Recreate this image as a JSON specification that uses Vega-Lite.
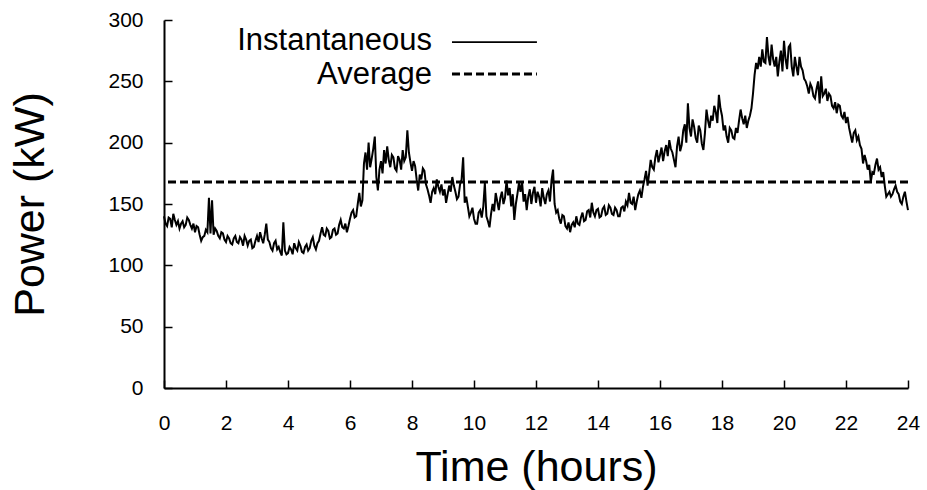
{
  "$schema": "https://vega.github.io/schema/vega-lite/v6.json",
  "width": 744,
  "height": 368,
  "autosize": {"type": "none"},
  "padding": {"left": 164, "top": 20, "right": 19, "bottom": 102},
  "background": "white",
  "config": {
    "view": {"stroke": null},
    "font": "Liberation Sans",
    "axis": {
      "domainColor": "black", "domainWidth": 2, "tickColor": "black", "tickWidth": 1.5,
      "labelColor": "black", "titleColor": "black", "grid": false, "labelFlush": false,
      "labelFont": "Liberation Sans", "titleFont": "Liberation Sans", "titleFontWeight": "normal",
      "labelFontSize": 21, "titleFontSize": 43
    }
  },
  "resolve": {"axis": {"x": "independent", "y": "independent"}},
  "layer": [
    {
      "data": {"values": [
        {"h":0.00,"kW":140},{"h":0.05,"kW":134},{"h":0.10,"kW":132},{"h":0.15,"kW":139},{"h":0.20,"kW":138},{"h":0.25,"kW":131},{"h":0.30,"kW":142},{"h":0.35,"kW":137},{"h":0.40,"kW":133},{"h":0.45,"kW":136},{"h":0.50,"kW":130},{"h":0.55,"kW":134},{"h":0.60,"kW":136},{"h":0.65,"kW":131},{"h":0.70,"kW":133},{"h":0.75,"kW":139},{"h":0.80,"kW":137},{"h":0.85,"kW":133},{"h":0.90,"kW":130},{"h":0.95,"kW":134},
        {"h":1.00,"kW":127},{"h":1.05,"kW":132},{"h":1.10,"kW":131},{"h":1.15,"kW":125},{"h":1.20,"kW":120},{"h":1.25,"kW":123},{"h":1.30,"kW":124},{"h":1.35,"kW":129},{"h":1.40,"kW":127},{"h":1.45,"kW":155},{"h":1.50,"kW":126},{"h":1.55,"kW":153},{"h":1.60,"kW":125},{"h":1.65,"kW":130},{"h":1.70,"kW":128},{"h":1.75,"kW":124},{"h":1.80,"kW":122},{"h":1.85,"kW":127},{"h":1.90,"kW":126},{"h":1.95,"kW":121},
        {"h":2.00,"kW":119},{"h":2.05,"kW":124},{"h":2.10,"kW":122},{"h":2.15,"kW":118},{"h":2.20,"kW":117},{"h":2.25,"kW":122},{"h":2.30,"kW":124},{"h":2.35,"kW":119},{"h":2.40,"kW":118},{"h":2.45,"kW":123},{"h":2.50,"kW":121},{"h":2.55,"kW":116},{"h":2.60,"kW":124},{"h":2.65,"kW":121},{"h":2.70,"kW":116},{"h":2.75,"kW":120},{"h":2.80,"kW":121},{"h":2.85,"kW":114},{"h":2.90,"kW":115},{"h":2.95,"kW":120},
        {"h":3.00,"kW":124},{"h":3.05,"kW":119},{"h":3.10,"kW":127},{"h":3.15,"kW":122},{"h":3.20,"kW":118},{"h":3.25,"kW":125},{"h":3.30,"kW":134},{"h":3.35,"kW":121},{"h":3.40,"kW":119},{"h":3.45,"kW":114},{"h":3.50,"kW":112},{"h":3.55,"kW":118},{"h":3.60,"kW":120},{"h":3.65,"kW":113},{"h":3.70,"kW":115},{"h":3.75,"kW":111},{"h":3.80,"kW":108},{"h":3.85,"kW":135},{"h":3.90,"kW":112},{"h":3.95,"kW":109},
        {"h":4.00,"kW":110},{"h":4.05,"kW":115},{"h":4.10,"kW":113},{"h":4.15,"kW":109},{"h":4.20,"kW":118},{"h":4.25,"kW":114},{"h":4.30,"kW":112},{"h":4.35,"kW":119},{"h":4.40,"kW":116},{"h":4.45,"kW":111},{"h":4.50,"kW":110},{"h":4.55,"kW":115},{"h":4.60,"kW":117},{"h":4.65,"kW":112},{"h":4.70,"kW":114},{"h":4.75,"kW":120},{"h":4.80,"kW":123},{"h":4.85,"kW":116},{"h":4.90,"kW":113},{"h":4.95,"kW":118},
        {"h":5.00,"kW":120},{"h":5.05,"kW":126},{"h":5.10,"kW":131},{"h":5.15,"kW":125},{"h":5.20,"kW":124},{"h":5.25,"kW":130},{"h":5.30,"kW":128},{"h":5.35,"kW":122},{"h":5.40,"kW":123},{"h":5.45,"kW":129},{"h":5.50,"kW":130},{"h":5.55,"kW":125},{"h":5.60,"kW":126},{"h":5.65,"kW":133},{"h":5.70,"kW":137},{"h":5.75,"kW":131},{"h":5.80,"kW":130},{"h":5.85,"kW":134},{"h":5.90,"kW":127},{"h":5.95,"kW":132},
        {"h":6.00,"kW":138},{"h":6.05,"kW":143},{"h":6.10,"kW":145},{"h":6.15,"kW":139},{"h":6.20,"kW":140},{"h":6.25,"kW":150},{"h":6.30,"kW":159},{"h":6.35,"kW":148},{"h":6.40,"kW":153},{"h":6.45,"kW":183},{"h":6.50,"kW":192},{"h":6.55,"kW":178},{"h":6.60,"kW":200},{"h":6.65,"kW":180},{"h":6.70,"kW":187},{"h":6.75,"kW":195},{"h":6.80,"kW":205},{"h":6.85,"kW":172},{"h":6.90,"kW":161},{"h":6.95,"kW":178},
        {"h":7.00,"kW":185},{"h":7.05,"kW":175},{"h":7.10,"kW":194},{"h":7.15,"kW":183},{"h":7.20,"kW":197},{"h":7.25,"kW":186},{"h":7.30,"kW":180},{"h":7.35,"kW":190},{"h":7.40,"kW":188},{"h":7.45,"kW":179},{"h":7.50,"kW":177},{"h":7.55,"kW":189},{"h":7.60,"kW":186},{"h":7.65,"kW":178},{"h":7.70,"kW":194},{"h":7.75,"kW":185},{"h":7.80,"kW":188},{"h":7.85,"kW":210},{"h":7.90,"kW":192},{"h":7.95,"kW":184},
        {"h":8.00,"kW":177},{"h":8.05,"kW":185},{"h":8.10,"kW":181},{"h":8.15,"kW":170},{"h":8.20,"kW":161},{"h":8.25,"kW":174},{"h":8.30,"kW":170},{"h":8.35,"kW":179},{"h":8.40,"kW":177},{"h":8.45,"kW":166},{"h":8.50,"kW":162},{"h":8.55,"kW":157},{"h":8.60,"kW":151},{"h":8.65,"kW":160},{"h":8.70,"kW":163},{"h":8.75,"kW":158},{"h":8.80,"kW":170},{"h":8.85,"kW":164},{"h":8.90,"kW":160},{"h":8.95,"kW":166},
        {"h":9.00,"kW":157},{"h":9.05,"kW":162},{"h":9.10,"kW":151},{"h":9.15,"kW":158},{"h":9.20,"kW":165},{"h":9.25,"kW":160},{"h":9.30,"kW":172},{"h":9.35,"kW":165},{"h":9.40,"kW":160},{"h":9.45,"kW":154},{"h":9.50,"kW":156},{"h":9.55,"kW":166},{"h":9.60,"kW":170},{"h":9.65,"kW":188},{"h":9.70,"kW":151},{"h":9.75,"kW":156},{"h":9.80,"kW":148},{"h":9.85,"kW":140},{"h":9.90,"kW":143},{"h":9.95,"kW":147},
        {"h":10.00,"kW":138},{"h":10.05,"kW":134},{"h":10.10,"kW":134},{"h":10.15,"kW":143},{"h":10.20,"kW":145},{"h":10.25,"kW":139},{"h":10.30,"kW":148},{"h":10.35,"kW":167},{"h":10.40,"kW":140},{"h":10.45,"kW":136},{"h":10.50,"kW":131},{"h":10.55,"kW":142},{"h":10.60,"kW":150},{"h":10.65,"kW":144},{"h":10.70,"kW":159},{"h":10.75,"kW":152},{"h":10.80,"kW":145},{"h":10.85,"kW":155},{"h":10.90,"kW":160},{"h":10.95,"kW":150},
        {"h":11.00,"kW":155},{"h":11.05,"kW":169},{"h":11.10,"kW":157},{"h":11.15,"kW":163},{"h":11.20,"kW":148},{"h":11.25,"kW":158},{"h":11.30,"kW":137},{"h":11.35,"kW":150},{"h":11.40,"kW":158},{"h":11.45,"kW":167},{"h":11.50,"kW":160},{"h":11.55,"kW":168},{"h":11.60,"kW":152},{"h":11.65,"kW":158},{"h":11.70,"kW":145},{"h":11.75,"kW":156},{"h":11.80,"kW":162},{"h":11.85,"kW":150},{"h":11.90,"kW":159},{"h":11.95,"kW":164},
        {"h":12.00,"kW":151},{"h":12.05,"kW":160},{"h":12.10,"kW":156},{"h":12.15,"kW":148},{"h":12.20,"kW":163},{"h":12.25,"kW":155},{"h":12.30,"kW":150},{"h":12.35,"kW":158},{"h":12.40,"kW":161},{"h":12.45,"kW":152},{"h":12.50,"kW":169},{"h":12.55,"kW":178},{"h":12.60,"kW":150},{"h":12.65,"kW":143},{"h":12.70,"kW":145},{"h":12.75,"kW":138},{"h":12.80,"kW":134},{"h":12.85,"kW":141},{"h":12.90,"kW":140},{"h":12.95,"kW":132},
        {"h":13.00,"kW":130},{"h":13.05,"kW":135},{"h":13.10,"kW":127},{"h":13.15,"kW":133},{"h":13.20,"kW":135},{"h":13.25,"kW":131},{"h":13.30,"kW":140},{"h":13.35,"kW":134},{"h":13.40,"kW":133},{"h":13.45,"kW":139},{"h":13.50,"kW":143},{"h":13.55,"kW":136},{"h":13.60,"kW":137},{"h":13.65,"kW":144},{"h":13.70,"kW":145},{"h":13.75,"kW":139},{"h":13.80,"kW":151},{"h":13.85,"kW":143},{"h":13.90,"kW":140},{"h":13.95,"kW":145},
        {"h":14.00,"kW":146},{"h":14.05,"kW":139},{"h":14.10,"kW":140},{"h":14.15,"kW":146},{"h":14.20,"kW":148},{"h":14.25,"kW":141},{"h":14.30,"kW":142},{"h":14.35,"kW":149},{"h":14.40,"kW":147},{"h":14.45,"kW":142},{"h":14.50,"kW":141},{"h":14.55,"kW":147},{"h":14.60,"kW":145},{"h":14.65,"kW":140},{"h":14.70,"kW":140},{"h":14.75,"kW":147},{"h":14.80,"kW":148},{"h":14.85,"kW":144},{"h":14.90,"kW":152},{"h":14.95,"kW":149},
        {"h":15.00,"kW":159},{"h":15.05,"kW":151},{"h":15.10,"kW":150},{"h":15.15,"kW":156},{"h":15.20,"kW":145},{"h":15.25,"kW":152},{"h":15.30,"kW":158},{"h":15.35,"kW":161},{"h":15.40,"kW":155},{"h":15.45,"kW":164},{"h":15.50,"kW":170},{"h":15.55,"kW":177},{"h":15.60,"kW":165},{"h":15.65,"kW":175},{"h":15.70,"kW":186},{"h":15.75,"kW":180},{"h":15.80,"kW":178},{"h":15.85,"kW":188},{"h":15.90,"kW":194},{"h":15.95,"kW":184},
        {"h":16.00,"kW":190},{"h":16.05,"kW":196},{"h":16.10,"kW":185},{"h":16.15,"kW":193},{"h":16.20,"kW":198},{"h":16.25,"kW":189},{"h":16.30,"kW":202},{"h":16.35,"kW":195},{"h":16.40,"kW":192},{"h":16.45,"kW":186},{"h":16.50,"kW":180},{"h":16.55,"kW":197},{"h":16.60,"kW":205},{"h":16.65,"kW":193},{"h":16.70,"kW":198},{"h":16.75,"kW":210},{"h":16.80,"kW":215},{"h":16.85,"kW":200},{"h":16.90,"kW":232},{"h":16.95,"kW":212},
        {"h":17.00,"kW":205},{"h":17.05,"kW":219},{"h":17.10,"kW":213},{"h":17.15,"kW":204},{"h":17.20,"kW":200},{"h":17.25,"kW":214},{"h":17.30,"kW":210},{"h":17.35,"kW":199},{"h":17.40,"kW":194},{"h":17.45,"kW":208},{"h":17.50,"kW":227},{"h":17.55,"kW":218},{"h":17.60,"kW":212},{"h":17.65,"kW":222},{"h":17.70,"kW":218},{"h":17.75,"kW":230},{"h":17.80,"kW":225},{"h":17.85,"kW":216},{"h":17.90,"kW":239},{"h":17.95,"kW":228},
        {"h":18.00,"kW":222},{"h":18.05,"kW":210},{"h":18.10,"kW":214},{"h":18.15,"kW":205},{"h":18.20,"kW":200},{"h":18.25,"kW":212},{"h":18.30,"kW":210},{"h":18.35,"kW":204},{"h":18.40,"kW":203},{"h":18.45,"kW":212},{"h":18.50,"kW":208},{"h":18.55,"kW":218},{"h":18.60,"kW":227},{"h":18.65,"kW":220},{"h":18.70,"kW":215},{"h":18.75,"kW":222},{"h":18.80,"kW":212},{"h":18.85,"kW":218},{"h":18.90,"kW":222},{"h":18.95,"kW":228},
        {"h":19.00,"kW":240},{"h":19.05,"kW":255},{"h":19.10,"kW":265},{"h":19.15,"kW":260},{"h":19.20,"kW":270},{"h":19.25,"kW":262},{"h":19.30,"kW":276},{"h":19.35,"kW":266},{"h":19.40,"kW":265},{"h":19.45,"kW":286},{"h":19.50,"kW":270},{"h":19.55,"kW":263},{"h":19.60,"kW":280},{"h":19.65,"kW":268},{"h":19.70,"kW":262},{"h":19.75,"kW":270},{"h":19.80,"kW":254},{"h":19.85,"kW":266},{"h":19.90,"kW":275},{"h":19.95,"kW":258},
        {"h":20.00,"kW":283},{"h":20.05,"kW":268},{"h":20.10,"kW":260},{"h":20.15,"kW":278},{"h":20.20,"kW":280},{"h":20.25,"kW":262},{"h":20.30,"kW":254},{"h":20.35,"kW":270},{"h":20.40,"kW":262},{"h":20.45,"kW":255},{"h":20.50,"kW":270},{"h":20.55,"kW":262},{"h":20.60,"kW":259},{"h":20.65,"kW":252},{"h":20.70,"kW":250},{"h":20.75,"kW":246},{"h":20.80,"kW":240},{"h":20.85,"kW":248},{"h":20.90,"kW":245},{"h":20.95,"kW":238},
        {"h":21.00,"kW":236},{"h":21.05,"kW":244},{"h":21.10,"kW":250},{"h":21.15,"kW":232},{"h":21.20,"kW":254},{"h":21.25,"kW":238},{"h":21.30,"kW":240},{"h":21.35,"kW":244},{"h":21.40,"kW":234},{"h":21.45,"kW":240},{"h":21.50,"kW":238},{"h":21.55,"kW":230},{"h":21.60,"kW":228},{"h":21.65,"kW":233},{"h":21.70,"kW":224},{"h":21.75,"kW":231},{"h":21.80,"kW":230},{"h":21.85,"kW":222},{"h":21.90,"kW":220},{"h":21.95,"kW":225},
        {"h":22.00,"kW":216},{"h":22.05,"kW":221},{"h":22.10,"kW":212},{"h":22.15,"kW":206},{"h":22.20,"kW":200},{"h":22.25,"kW":208},{"h":22.30,"kW":210},{"h":22.35,"kW":202},{"h":22.40,"kW":205},{"h":22.45,"kW":198},{"h":22.50,"kW":195},{"h":22.55,"kW":183},{"h":22.60,"kW":190},{"h":22.65,"kW":185},{"h":22.70,"kW":178},{"h":22.75,"kW":182},{"h":22.80,"kW":168},{"h":22.85,"kW":176},{"h":22.90,"kW":175},{"h":22.95,"kW":182},
        {"h":23.00,"kW":187},{"h":23.05,"kW":178},{"h":23.10,"kW":180},{"h":23.15,"kW":172},{"h":23.20,"kW":176},{"h":23.25,"kW":165},{"h":23.30,"kW":156},{"h":23.35,"kW":158},{"h":23.40,"kW":160},{"h":23.45,"kW":156},{"h":23.50,"kW":158},{"h":23.55,"kW":162},{"h":23.60,"kW":165},{"h":23.65,"kW":160},{"h":23.70,"kW":158},{"h":23.75,"kW":152},{"h":23.80,"kW":150},{"h":23.85,"kW":156},{"h":23.90,"kW":160},{"h":23.95,"kW":152},
        {"h":24.00,"kW":145}
      ]},
      "mark": {"type": "line", "color": "black", "strokeWidth": 2},
      "encoding": {
        "x": {"field": "h", "type": "quantitative", "title": "Time (hours)",
              "scale": {"domain": [0, 24], "nice": false, "zero": false},
              "axis": {"values": [0,2,4,6,8,10,12,14,16,18,20,22,24], "ticks": false, "tickSize": 0, "labelPadding": 24, "titlePadding": 13}},
        "y": {"field": "kW", "type": "quantitative", "title": "Power (kW)",
              "scale": {"domain": [0, 300], "nice": false},
              "axis": {"values": [0,50,100,150,200,250,300], "ticks": false, "tickSize": 0, "labelPadding": 21, "titlePadding": 55}}
      }
    },
    {
      "data": {"values": [{"kW": 168}]},
      "mark": {"type": "rule", "color": "black", "strokeWidth": 3, "strokeDash": [8, 4]},
      "encoding": {
        "y": {"field": "kW", "type": "quantitative", "axis": null}
      }
    },
    {
      "data": {"values": [{"series": "Instantaneous"}]},
      "mark": {"type": "rule", "color": "black", "strokeWidth": 1.8},
      "encoding": {
        "x": {"datum": 9.29, "type": "quantitative",
              "axis": {"orient": "top", "offset": -368, "values": [0,2,4,6,8,10,12,14,16,18,20,22,24], "domain": false, "labels": false, "ticks": true, "tickSize": 8, "title": null}},
        "x2": {"datum": 12.03},
        "y": {"datum": 282, "type": "quantitative",
              "axis": {"orient": "right", "offset": -744, "values": [0,50,100,150,200,250,300], "domain": false, "labels": false, "ticks": true, "tickSize": 8, "title": null}}
      }
    },
    {
      "data": {"values": [{"series": "Average"}]},
      "mark": {"type": "rule", "color": "black", "strokeWidth": 3, "strokeDash": [8, 4]},
      "encoding": {
        "x": {"datum": 9.29, "type": "quantitative", "axis": null},
        "x2": {"datum": 12.03},
        "y": {"datum": 256, "type": "quantitative", "axis": null}
      }
    },
    {
      "data": {"values": [{"series": "Instantaneous"}]},
      "mark": {"type": "text", "align": "right", "baseline": "middle", "fontSize": 31, "font": "Liberation Sans", "color": "black"},
      "encoding": {
        "x": {"datum": 8.645, "type": "quantitative", "axis": null},
        "y": {"datum": 282.5, "type": "quantitative", "axis": null},
        "text": {"field": "series"}
      }
    },
    {
      "data": {"values": [{"series": "Average"}]},
      "mark": {"type": "text", "align": "right", "baseline": "middle", "fontSize": 31, "font": "Liberation Sans", "color": "black"},
      "encoding": {
        "x": {"datum": 8.645, "type": "quantitative", "axis": null},
        "y": {"datum": 255.5, "type": "quantitative", "axis": null},
        "text": {"field": "series"}
      }
    }
  ]
}
